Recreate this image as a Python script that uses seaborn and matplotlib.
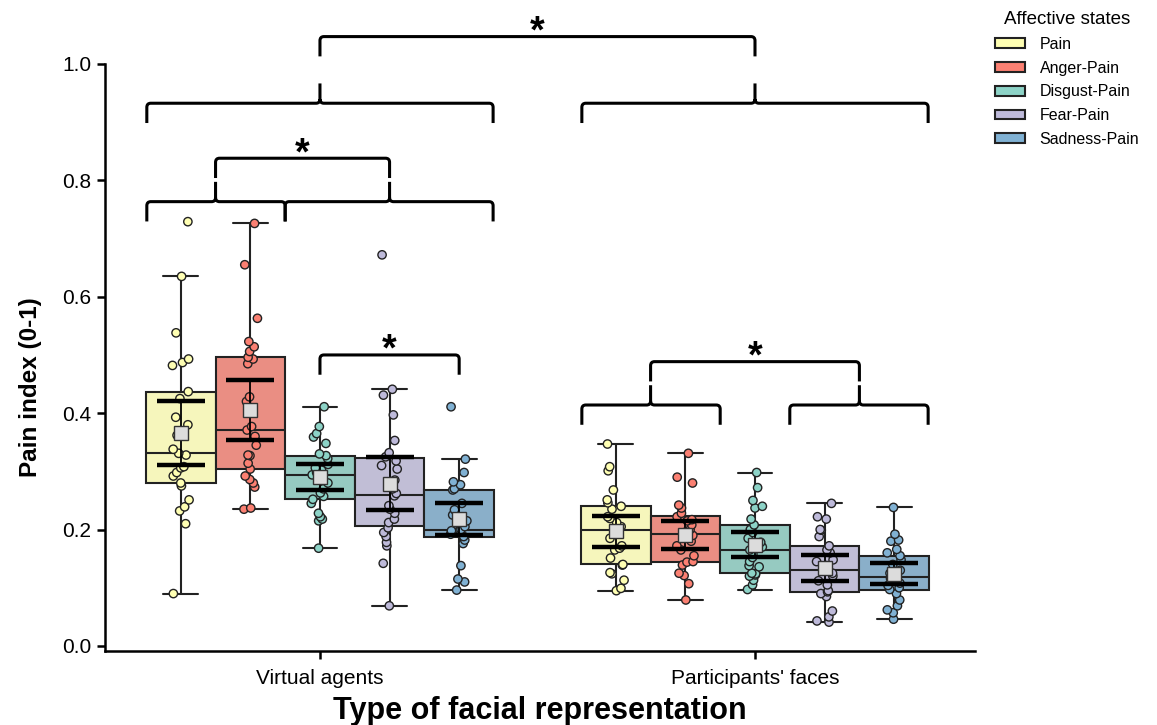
import numpy as np
import pandas as pd
import matplotlib
matplotlib.use("Agg")
import matplotlib.pyplot as plt
import seaborn as sns
from matplotlib.path import Path
from matplotlib.patches import PathPatch, Patch

# ---------------- data ----------------
representations = ["Virtual agents", "Participants' faces"]
states = ["Pain", "Anger-Pain", "Disgust-Pain", "Fear-Pain", "Sadness-Pain"]
colors = ["#ffffb3", "#fb8072", "#8dd3c7", "#bebada", "#80b1d3"]

va_pain = [0.090, 0.210, 0.232, 0.239, 0.251, 0.275, 0.280, 0.292, 0.298, 0.306, 0.308, 0.328,
           0.331, 0.338, 0.362, 0.380, 0.393, 0.425, 0.437, 0.482, 0.487, 0.493, 0.538, 0.635, 0.729]
va_anger = [0.235, 0.237, 0.273, 0.280, 0.286, 0.292, 0.304, 0.314, 0.327, 0.328, 0.345, 0.360,
            0.371, 0.377, 0.420, 0.428, 0.485, 0.493, 0.496, 0.506, 0.514, 0.523, 0.563, 0.655, 0.726]
va_disgust = [0.168, 0.215, 0.218, 0.222, 0.228, 0.245, 0.252, 0.257, 0.263, 0.270, 0.280, 0.288,
              0.294, 0.298, 0.302, 0.306, 0.312, 0.322, 0.327, 0.330, 0.348, 0.359, 0.365, 0.377, 0.411]
va_fear = [0.069, 0.142, 0.172, 0.178, 0.188, 0.195, 0.203, 0.212, 0.218, 0.228, 0.235, 0.241, 0.258,
           0.262, 0.270, 0.285, 0.304, 0.310, 0.318, 0.325, 0.332, 0.353, 0.397, 0.431, 0.441, 0.672]
va_sadness = [0.096, 0.110, 0.115, 0.138, 0.176, 0.182, 0.188, 0.192, 0.195, 0.197, 0.198, 0.199,
              0.200, 0.205, 0.215, 0.225, 0.234, 0.245, 0.268, 0.270, 0.277, 0.282, 0.298, 0.321, 0.411]

pf_pain = [0.095, 0.099, 0.113, 0.124, 0.126, 0.139, 0.140, 0.151, 0.165, 0.168, 0.172, 0.185,
           0.199, 0.205, 0.212, 0.219, 0.222, 0.235, 0.240, 0.246, 0.251, 0.268, 0.301, 0.308, 0.347]
pf_anger = [0.079, 0.107, 0.121, 0.125, 0.139, 0.144, 0.145, 0.155, 0.165, 0.172, 0.180, 0.190,
            0.195, 0.200, 0.208, 0.215, 0.217, 0.222, 0.228, 0.237, 0.242, 0.280, 0.290, 0.331]
pf_disgust = [0.097, 0.105, 0.113, 0.120, 0.122, 0.124, 0.125, 0.136, 0.138, 0.145, 0.152, 0.158,
              0.165, 0.170, 0.178, 0.185, 0.195, 0.200, 0.208, 0.218, 0.237, 0.240, 0.250, 0.272, 0.298]
pf_fear = [0.041, 0.043, 0.050, 0.060, 0.085, 0.090, 0.093, 0.095, 0.105, 0.112, 0.120, 0.125,
           0.131, 0.138, 0.145, 0.148, 0.160, 0.165, 0.172, 0.188, 0.199, 0.200, 0.218, 0.222, 0.245]
pf_sadness = [0.046, 0.057, 0.062, 0.069, 0.079, 0.090, 0.097, 0.100, 0.104, 0.108, 0.112, 0.116,
              0.119, 0.121, 0.125, 0.130, 0.140, 0.148, 0.155, 0.160, 0.166, 0.180, 0.182, 0.192, 0.238]

groups = {
    ("Virtual agents", "Pain"): va_pain,
    ("Virtual agents", "Anger-Pain"): va_anger,
    ("Virtual agents", "Disgust-Pain"): va_disgust,
    ("Virtual agents", "Fear-Pain"): va_fear,
    ("Virtual agents", "Sadness-Pain"): va_sadness,
    ("Participants' faces", "Pain"): pf_pain,
    ("Participants' faces", "Anger-Pain"): pf_anger,
    ("Participants' faces", "Disgust-Pain"): pf_disgust,
    ("Participants' faces", "Fear-Pain"): pf_fear,
    ("Participants' faces", "Sadness-Pain"): pf_sadness,
}
rows = [(rep, st, v) for (rep, st), vals in groups.items() for v in vals]
df = pd.DataFrame(rows, columns=["rep", "state", "value"])

# ---------------- style ----------------
sns.set_style("ticks")
plt.rcParams["font.family"] = ["Liberation Sans", "DejaVu Sans"]
for key in ["text.color", "axes.labelcolor", "xtick.color", "ytick.color", "axes.edgecolor"]:
    plt.rcParams[key] = "black"

fig = plt.figure(figsize=(11.57, 7.25), dpi=100)
ax = fig.add_axes([0.0908, 0.1018, 0.752, 0.8100])

sns.boxplot(data=df, x="rep", y="value", hue="state", order=representations,
            hue_order=states, palette=colors, saturation=0.75, width=0.8, gap=0,
            showfliers=False, linewidth=1.5, linecolor="#222222", whis=1.5,
            legend=False, ax=ax)

np.random.seed(7)
sns.stripplot(data=df, x="rep", y="value", hue="state", order=representations,
              hue_order=states, palette=colors, dodge=True, jitter=True, size=6,
              linewidth=1, edgecolor="#222222", legend=False, ax=ax, zorder=3)

# means with 95% CI
n_h = len(states)
slot = 0.8 / n_h
for i, rep in enumerate(representations):
    for j, st in enumerate(states):
        vals = np.asarray(groups[(rep, st)])
        m = vals.mean()
        ci = 1.96 * vals.std(ddof=1) / np.sqrt(len(vals))
        x = i + (j - (n_h - 1) / 2) * slot
        ax.errorbar(x, m, yerr=ci, fmt="none", ecolor="black", elinewidth=1.3,
                    capsize=17, capthick=3.2, zorder=4)
        ax.plot(x, m, marker="s", ms=10, mfc="#dcdcdc", mec="#333333", mew=1,
                linestyle="none", zorder=5)

ax.set_xlim(-0.494, 1.506)
ax.set_ylim(-0.009, 1.0)
ax.set_yticks([0.0, 0.2, 0.4, 0.6, 0.8, 1.0])
ax.set_yticklabels(["0.0", "0.2", "0.4", "0.6", "0.8", "1.0"])
sns.despine(ax=ax)
for s in ["left", "bottom"]:
    ax.spines[s].set_linewidth(1.8)
    ax.spines[s].set_color("black")
ax.tick_params(axis="both", length=6, width=1.8, labelsize=15, colors="black")
ax.tick_params(axis="y", pad=4)
ax.tick_params(axis="x", pad=7)

ax.set_ylabel("Pain index (0-1)", fontsize=17.5, fontweight="bold", color="black")
ax.yaxis.set_label_coords(-0.072, 0.45)
ax.set_xlabel("Type of facial representation", fontsize=22, fontweight="bold", color="black")
ax.xaxis.set_label_coords(0.5, -0.077)

# ---------------- brackets ----------------
M, L, C = Path.MOVETO, Path.LINETO, Path.CURVE3
RX, RY = 0.009, 0.007
LW = 2.2


def brace(x0, x1, xc, y, drop=0.034, tip=0.034):
    verts = [(x0, y - drop), (x0, y - RY), (x0, y), (x0 + RX, y), (xc - RX, y), (xc, y),
             (xc, y + RY), (xc, y + tip), (xc, y + RY), (xc, y), (xc + RX, y),
             (x1 - RX, y), (x1, y), (x1, y - RY), (x1, y - drop)]
    codes = [M, L, C, C, L, C, C, L, M, C, C, L, C, C, L]
    ax.add_patch(PathPatch(Path(verts, codes), fill=False, lw=LW, color="black",
                           clip_on=False, capstyle="butt", joinstyle="round"))


def bracket(x0, x1, y, drop=0.034, star=True):
    verts = [(x0, y - drop), (x0, y - RY), (x0, y), (x0 + RX, y), (x1 - RX, y), (x1, y),
             (x1, y - RY), (x1, y - drop)]
    codes = [M, L, C, C, L, C, C, L]
    ax.add_patch(PathPatch(Path(verts, codes), fill=False, lw=LW, color="black",
                           clip_on=False, capstyle="butt", joinstyle="round"))
    if star:
        ax.text((x0 + x1) / 2, y - 0.010, "*", ha="center", va="baseline", fontsize=27,
                fontweight="bold", color="black", clip_on=False)


off = [(j - (n_h - 1) / 2) * slot for j in range(n_h)]
half = slot / 2
edge_l, edge_r = off[0] - half + 0.002, off[-1] + half - 0.002

# top level: virtual agents vs participants' faces
brace(0 + edge_l, 0 + edge_r, 0, 0.9325)
brace(1 + edge_l, 1 + edge_r, 1, 0.9325)
bracket(0, 1, 1.047)

# virtual agents: Pain+Anger vs Disgust+Fear+Sadness
b_ad = off[1] + half
brace(edge_l, b_ad, (off[0] + off[1]) / 2, 0.7634)
brace(b_ad, edge_r, off[3], 0.7634)
bracket((off[0] + off[1]) / 2, off[3], 0.838)

# virtual agents: Disgust vs Sadness
bracket(off[2], off[4], 0.500)

# participants' faces: Pain+Anger vs Fear+Sadness
b_df = off[2] + half
brace(1 + edge_l, 1 + b_ad, 1 + (off[0] + off[1]) / 2, 0.414)
brace(1 + b_df, 1 + edge_r, 1 + (off[3] + off[4]) / 2, 0.414)
bracket(1 + (off[0] + off[1]) / 2, 1 + (off[3] + off[4]) / 2, 0.4885)

# ---------------- legend ----------------
handles = [Patch(facecolor=c, edgecolor="#222222", linewidth=1.5, label=s)
           for c, s in zip(colors, states)]
leg = fig.legend(handles=handles, title="Affective states", loc="upper left",
                 bbox_to_anchor=(995 / 1157, 1 - 11 / 725), bbox_transform=fig.transFigure,
                 frameon=False, fontsize=11.5, title_fontsize=13.5, borderpad=0,
                 borderaxespad=0, handlelength=1.9, handleheight=0.55,
                 handletextpad=0.9, labelspacing=0.55)

fig.savefig("out.png", dpi=100)
